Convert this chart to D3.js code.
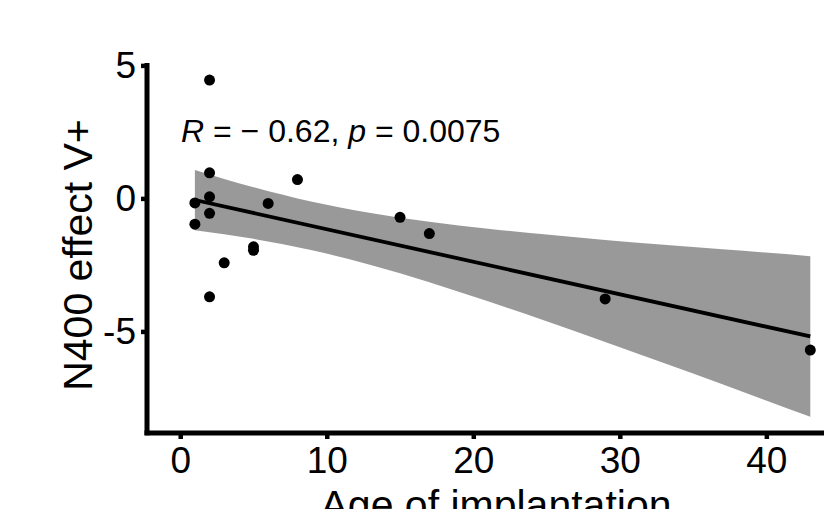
<!DOCTYPE html>
<html>
<head>
<meta charset="utf-8">
<script src="https://cdn.jsdelivr.net/npm/d3@7"></script>
<style>
  body { margin: 0; background: #fff; }
  text { font-family: "Liberation Sans", Arial, sans-serif; fill: #000; }
</style>
</head>
<body>
<div id="chart"></div>
<script>
// data
const ageX = [2, 2, 2, 1, 6, 2, 1, 5, 5, 3, 2, 8, 15, 17, 29, 43];
const n400Y = [4.45, 0.96, 0.06, -0.17, -0.19, -0.56, -0.97, -1.82, -1.95, -2.42, -3.7, 0.71, -0.71, -1.32, -3.78, -5.7];

// regression line + confidence band
const fitX = [1, 43];
const fitY = [-0.06, -5.19];
const bandX = [1, 5, 9, 13, 17, 21, 25, 29, 33, 37, 43];
const bandUpper = [1.07, 0.42, -0.13, -0.55, -0.88, -1.14, -1.36, -1.56, -1.74, -1.91, -2.17];
const bandLower = [-1.2, -1.52, -1.95, -2.5, -3.15, -3.87, -4.62, -5.4, -6.19, -6.99, -8.21];

const xTicks = [0, 10, 20, 30, 40];
const yTicks = [-5, 0, 5];

var width = 824, height = 509;

var svg = d3.select("#chart")
    .append("svg")
    .attr("width", width)
    .attr("height", height);

var x = d3.scaleLinear()
    .domain([-2.2, 45.3])
    .range([148, 844]);

var y = d3.scaleLinear()
    .domain([-8.77, 5.09])
    .range([431.7, 63]);

//Confidence band
var band = bandX.map((d, i) => [d, bandUpper[i], bandLower[i]]);
svg.append("path")
    .datum(band)
    .attr("fill", "#999999")
    .attr("d", d3.area()
        .x(d => x(d[0]))
        .y0(d => y(d[2]))
        .y1(d => y(d[1]))
        .curve(d3.curveMonotoneX));

//Fit line
svg.append("path")
    .datum(fitX.map((d, i) => [d, fitY[i]]))
    .attr("fill", "none")
    .attr("stroke", "#000")
    .attr("stroke-width", 3.8)
    .attr("d", d3.line().x(d => x(d[0])).y(d => y(d[1])));

//Points
svg.selectAll("circle.pt")
    .data(ageX.map((d, i) => [d, n400Y[i]]))
    .enter()
    .append("circle")
    .attr("class", "pt")
    .attr("cx", d => x(d[0]))
    .attr("cy", d => y(d[1]))
    .attr("r", 5.5)
    .attr("fill", "#000");

//X axis
var xAxis = svg.append("g")
    .attr("transform", "translate(0,433)")
    .call(d3.axisBottom(x).tickValues(xTicks).tickSize(6).tickSizeOuter(0).tickPadding(8).tickFormat(d => String(d)));
xAxis.select(".domain").attr("stroke-width", 5).attr("d", "M" + (x.range()[0] - 3.5) + ",0H" + x.range()[1]);
xAxis.selectAll(".tick line").attr("stroke-width", 4.5);
xAxis.selectAll(".tick text")
    .style("font-size", "37px")
    .attr("font-family", null);

//Y axis
var yAxis = svg.append("g")
    .attr("transform", "translate(147,0)")
    .call(d3.axisLeft(y).tickValues(yTicks).tickSize(6).tickSizeOuter(0).tickPadding(5).tickFormat(d => String(d)));
yAxis.select(".domain").attr("stroke-width", 5).attr("d", "M0," + y.range()[1] + "V" + (y.range()[0] + 3.5));
yAxis.selectAll(".tick line").attr("stroke-width", 4.5);
yAxis.selectAll(".tick text")
    .style("font-size", "37px")
    .attr("font-family", null);

//Annotation
var ann = svg.append("text")
    .attr("x", 181)
    .attr("y", 141.5)
    .style("font-size", "32px");
ann.append("tspan").style("font-style", "italic").text("R");
ann.append("tspan").text(" = \u2212 0.62, ");
ann.append("tspan").style("font-style", "italic").text("p");
ann.append("tspan").text(" = 0.0075");

//X label
svg.append("text")
    .attr("x", 496)
    .attr("y", 519)
    .attr("text-anchor", "middle")
    .style("font-size", "41px")
    .text("Age of implantation");

//Y label
svg.append("text")
    .attr("transform", "translate(92,255)rotate(-90)")
    .attr("text-anchor", "middle")
    .style("font-size", "41px")
    .text("N400 effect V+");
</script>
</body>
</html>
